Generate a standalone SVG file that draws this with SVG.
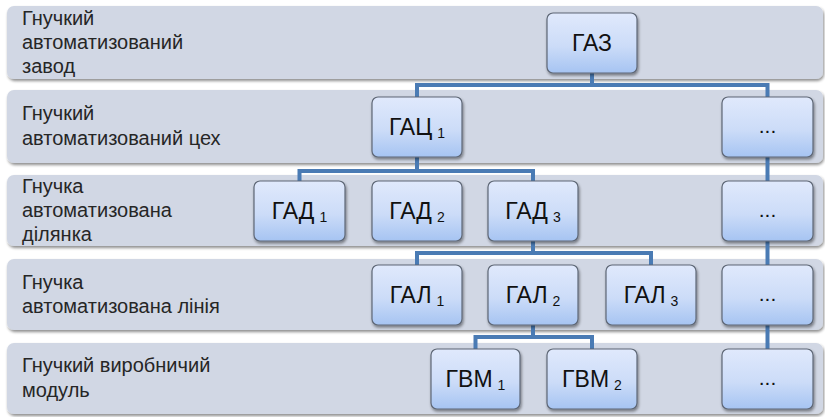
<svg xmlns="http://www.w3.org/2000/svg" width="825" height="417" viewBox="0 0 825 417">
  <defs>
    <linearGradient id="nodeFill" x1="0" y1="0" x2="0" y2="1">
      <stop offset="0" stop-color="#E0E9FC"/>
      <stop offset="0.55" stop-color="#CCDCF8"/>
      <stop offset="1" stop-color="#A6C4F2"/>
    </linearGradient>
    <filter id="shadow" x="-10%" y="-10%" width="125%" height="140%">
      <feGaussianBlur in="SourceAlpha" stdDeviation="1.5"/>
      <feOffset dx="1" dy="2" result="b"/>
      <feComponentTransfer><feFuncA type="linear" slope="0.45"/></feComponentTransfer>
      <feMerge><feMergeNode/><feMergeNode in="SourceGraphic"/></feMerge>
    </filter>
  </defs>
  <style>
    .band { fill: #D1D7E4; filter: url(#shadow); }
    .blabel { font-family: "Liberation Sans", Arial, sans-serif; font-size: 20px; fill: #262626; }
    .node rect { fill: url(#nodeFill); stroke: #5E6776; stroke-width: 1.2; filter: url(#shadow); }
    .node text { font-family: "Liberation Sans", Arial, sans-serif; font-size: 23px; fill: #111; text-anchor: middle; }
    .node .sub { font-size: 14px; }
    .node .dots { font-size: 21px; }
    .conn { fill: none; stroke: #4A7BB4; stroke-width: 4; stroke-linejoin: miter; }
  </style>

  <rect width="825" height="417" fill="#FFFFFF"/>

  <!-- level bands -->
  <g id="bands">
    <rect class="band" x="7" y="6" width="816" height="73" rx="7"/>
    <rect class="band" x="7" y="90" width="816" height="73" rx="7"/>
    <rect class="band" x="7" y="175" width="816" height="71" rx="7"/>
    <rect class="band" x="7" y="259" width="816" height="71" rx="7"/>
    <rect class="band" x="7" y="343" width="816" height="71" rx="7"/>
  </g>

  <g id="level-labels">
    <text class="blabel" x="22" y="25">Гнучкий</text>
    <text class="blabel" x="22" y="49">автоматизований</text>
    <text class="blabel" x="22" y="73">завод</text>
    <text class="blabel" x="22" y="120">Гнучкий</text>
    <text class="blabel" x="22" y="145">автоматизований цех</text>
    <text class="blabel" x="22" y="193">Гнучка</text>
    <text class="blabel" x="22" y="217">автоматизована</text>
    <text class="blabel" x="22" y="241">ділянка</text>
    <text class="blabel" x="22" y="289">Гнучка</text>
    <text class="blabel" x="22" y="313">автоматизована лінія</text>
    <text class="blabel" x="22" y="372">Гнучкий виробничий</text>
    <text class="blabel" x="22" y="397">модуль</text>
  </g>

  <!-- connectors -->
  <g id="connectors">
    <path class="conn" d="M592 73 V85 M417 97 V85 H767.5 V97"/>
    <path class="conn" d="M417 157 V171 M299.5 181 V171 H533 V181"/>
    <path class="conn" d="M767.5 157 V181"/>
    <path class="conn" d="M533 241 V253 M417 265 V253 H651 V265"/>
    <path class="conn" d="M767.5 241 V265"/>
    <path class="conn" d="M533 325 V337 M475.5 349 V337 H592 V349"/>
    <path class="conn" d="M767.5 325 V349"/>
  </g>

  <!-- nodes -->
  <g id="n-gaz" class="node">
    <rect x="547" y="13" width="90" height="60" rx="6"/>
    <text x="592" y="51">ГАЗ</text>
  </g>
  <g id="n-gac1" class="node">
    <rect x="372" y="97" width="90" height="60" rx="6"/>
    <text x="417" y="135">ГАЦ<tspan class="sub" dx="5" dy="3">1</tspan></text>
  </g>
  <g id="n-more2" class="node">
    <rect x="722" y="97" width="91" height="60" rx="6"/>
    <text class="dots" x="767.5" y="133">...</text>
  </g>
  <g id="n-gad1" class="node">
    <rect x="254" y="181" width="91" height="60" rx="6"/>
    <text x="299.5" y="219">ГАД<tspan class="sub" dx="5" dy="3">1</tspan></text>
  </g>
  <g id="n-gad2" class="node">
    <rect x="372" y="181" width="90" height="60" rx="6"/>
    <text x="417" y="219">ГАД<tspan class="sub" dx="5" dy="3">2</tspan></text>
  </g>
  <g id="n-gad3" class="node">
    <rect x="488" y="181" width="90" height="60" rx="6"/>
    <text x="533" y="219">ГАД<tspan class="sub" dx="5" dy="3">3</tspan></text>
  </g>
  <g id="n-more3" class="node">
    <rect x="722" y="181" width="91" height="60" rx="6"/>
    <text class="dots" x="767.5" y="217">...</text>
  </g>
  <g id="n-gal1" class="node">
    <rect x="372" y="265" width="90" height="60" rx="6"/>
    <text x="417" y="303">ГАЛ<tspan class="sub" dx="5" dy="3">1</tspan></text>
  </g>
  <g id="n-gal2" class="node">
    <rect x="488" y="265" width="90" height="60" rx="6"/>
    <text x="533" y="303">ГАЛ<tspan class="sub" dx="5" dy="3">2</tspan></text>
  </g>
  <g id="n-gal3" class="node">
    <rect x="606" y="265" width="90" height="60" rx="6"/>
    <text x="651" y="303">ГАЛ<tspan class="sub" dx="5" dy="3">3</tspan></text>
  </g>
  <g id="n-more4" class="node">
    <rect x="722" y="265" width="91" height="60" rx="6"/>
    <text class="dots" x="767.5" y="301">...</text>
  </g>
  <g id="n-gvm1" class="node">
    <rect x="431" y="349" width="89" height="60" rx="6"/>
    <text x="475.5" y="387">ГВМ<tspan class="sub" dx="5" dy="3">1</tspan></text>
  </g>
  <g id="n-gvm2" class="node">
    <rect x="547" y="349" width="90" height="60" rx="6"/>
    <text x="592" y="387">ГВМ<tspan class="sub" dx="5" dy="3">2</tspan></text>
  </g>
  <g id="n-more5" class="node">
    <rect x="722" y="349" width="91" height="60" rx="6"/>
    <text class="dots" x="767.5" y="385">...</text>
  </g>
</svg>
